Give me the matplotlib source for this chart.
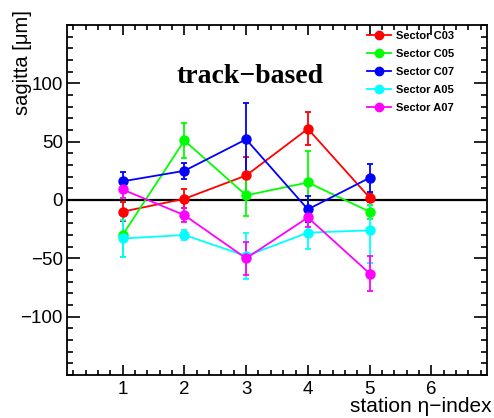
import matplotlib
matplotlib.use("Agg")
import matplotlib.pyplot as plt
from matplotlib.ticker import MultipleLocator
from matplotlib.lines import Line2D

# eta-index stations and sagitta bias per sector (um)
stations = [1, 2, 3, 4, 5]
sectors = ["Sector C03", "Sector C05", "Sector C07", "Sector A05", "Sector A07"]
colors = ["#ff0000", "#00ff00", "#0000ff", "#00ffff", "#ff00ff"]

sagitta_c03 = [-10, 1, 21, 61, 2]
err_c03 = [8, 8, 16, 14, 4]
sagitta_c05 = [-30, 51, 4, 15, -10]
err_c05 = [19, 15, 18, 27, 6]
sagitta_c07 = [16, 25, 52, -8, 19]
err_c07 = [8, 7, 31, 11, 12]
sagitta_a05 = [-33, -30, -48, -28, -26]
err_a05 = [16, 4, 20, 14, 28]
sagitta_a07 = [9, -13, -50, -15, -63]
err_a07 = [7, 6, 14, 8, 15]

valores = [sagitta_c03, sagitta_c05, sagitta_c07, sagitta_a05, sagitta_a07]
erros = [err_c03, err_c05, err_c07, err_a05, err_a07]

plt.rcParams['font.family'] = ['Liberation Sans', 'DejaVu Sans']

fig = plt.figure(figsize=(4.94, 4.18), dpi=100)
ax = fig.add_axes([67 / 494, 43 / 418, 420 / 494, 350 / 418])

ax.axhline(0, color='black', linewidth=1.6, zorder=1)

for y, e, c in zip(valores, erros, colors):
    ax.errorbar(stations, y, yerr=e, color=c, marker='o', markersize=6.5,
                linewidth=1.3, elinewidth=1.3, capsize=2, capthick=1.3, zorder=3)

ax.set_xlim(0.1, 6.9)
ax.set_ylim(-150, 150)

ax.xaxis.set_minor_locator(MultipleLocator(0.2))
ax.yaxis.set_minor_locator(MultipleLocator(10))
ax.set_xticks([1, 2, 3, 4, 5, 6])
ax.set_yticks([-100, -50, 0, 50, 100])

ax.tick_params(axis='both', which='both', direction='in', top=True, right=True,
               width=1.2, labelsize=13.5, colors='black')
ax.tick_params(axis='y', which='major', length=9.5, pad=3)
ax.tick_params(axis='y', which='minor', length=4.5)
ax.tick_params(axis='x', which='major', length=7.5, pad=4)
ax.tick_params(axis='x', which='minor', length=3.5)
for s in ax.spines.values():
    s.set_linewidth(1.3)

ax.set_xlabel('station \u03b7\u2212index', fontsize=15, loc='right')
ax.set_ylabel('sagitta [\u03bcm]', fontsize=14.5, loc='top')
ax.xaxis.set_label_coords(1.012, -0.064)
ax.yaxis.set_label_coords(-0.083, 1.043)

ax.text(0.436, 0.852, 'track\u2212based', transform=ax.transAxes,
        ha='center', va='center', fontsize=20, fontweight='bold',
        family=['Liberation Serif', 'DejaVu Serif'])

handles = [Line2D([], [], color=c, marker='o', markersize=6, linewidth=1.3)
           for c in colors]
ax.legend(handles, sectors, loc='upper left', bbox_to_anchor=(0.69, 1.012),
          frameon=False, prop={'size': 8, 'weight': 'bold'},
          handlelength=2.2, handletextpad=0.4, labelspacing=0.72)

fig.savefig('out.png', dpi=100)
